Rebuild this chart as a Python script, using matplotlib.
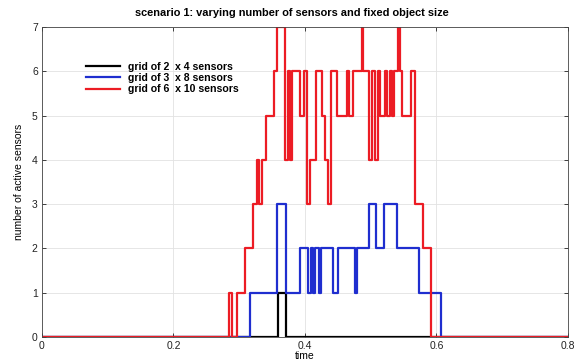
import matplotlib
matplotlib.use("Agg")
import matplotlib.pyplot as plt

plt.rcParams['font.family'] = ['Liberation Sans', 'DejaVu Sans']

# time breakpoints (step "post") and number of active sensors
black_t = [0.0, 0.359, 0.371, 0.8]
black_v = [0, 1, 0, 0]

blue_t = [0.0, 0.316, 0.357, 0.371, 0.392, 0.405, 0.409, 0.412, 0.415, 0.421,
          0.424, 0.443, 0.450, 0.476, 0.479, 0.497, 0.508, 0.520, 0.540, 0.573,
          0.607, 0.8]
blue_v = [0, 1, 3, 1, 2, 1, 2, 1, 2, 1,
          2, 1, 2, 1, 2, 3, 2, 3, 2, 1,
          0, 0]

red_t = [0.0, 0.284, 0.289, 0.297, 0.309, 0.321, 0.327, 0.330, 0.335, 0.341,
         0.353, 0.357, 0.370, 0.374, 0.377, 0.380, 0.392, 0.399, 0.403, 0.408,
         0.417, 0.426, 0.430, 0.435, 0.440, 0.449, 0.464, 0.467, 0.473, 0.487,
         0.488, 0.497, 0.502, 0.506, 0.511, 0.514, 0.522, 0.525, 0.529, 0.532,
         0.535, 0.541, 0.545, 0.548, 0.561, 0.567, 0.580, 0.592, 0.8]
red_v = [0, 1, 0, 1, 2, 3, 4, 3, 4, 5,
         6, 7, 4, 6, 4, 6, 5, 6, 3, 4,
         6, 5, 4, 3, 6, 5, 6, 5, 6, 7,
         6, 4, 6, 4, 6, 5, 6, 5, 6, 5,
         6, 7, 6, 5, 6, 3, 2, 0, 0]

labels = ["grid of 2  x 4 sensors", "grid of 3  x 8 sensors", "grid of 6  x 10 sensors"]
colors = ["#000000", "#1f2ecf", "#ec1c24"]

x_ticks = [0, 0.2, 0.4, 0.6, 0.8]
x_tick_labels = ["0", "0.2", "0.4", "0.6", "0.8"]
y_ticks = [0, 1, 2, 3, 4, 5, 6, 7]

fig = plt.figure(figsize=(5.83, 3.63), dpi=100)
ax = fig.add_axes([0.072, 0.0716, 0.902, 0.854])

for t, v, c, lab in zip([black_t, blue_t, red_t], [black_v, blue_v, red_v], colors, labels):
    ax.plot(t, v, drawstyle='steps-post', color=c, lw=1.6, label=lab)

ax.set_xlim(0, 0.8)
ax.set_ylim(0, 7)
ax.set_xticks(x_ticks)
ax.set_xticklabels(x_tick_labels)
ax.set_yticks(y_ticks)
ax.grid(True, color='#e2e2e2', lw=0.6)
ax.set_axisbelow(True)
ax.tick_params(direction='in', length=3, width=0.6, top=True, right=True,
               labelsize=7.5, pad=3, colors='#222222')
for s in ax.spines.values():
    s.set_linewidth(0.6)
    s.set_color('#444444')

ax.set_title("scenario 1: varying number of sensors and fixed object size",
             fontsize=7.9, fontweight='bold', pad=8, x=0.475)
ax.set_xlabel("time", fontsize=7.5, labelpad=0)
ax.set_ylabel("number of active sensors", fontsize=7.5, labelpad=6)

leg = ax.legend(loc='upper left', bbox_to_anchor=(0.083, 0.888), frameon=False,
                borderaxespad=0, borderpad=0, handlelength=3.3, handletextpad=0.75,
                labelspacing=0.12, prop={'size': 7.6, 'weight': 'bold'})

fig.savefig("out.png", dpi=100)
